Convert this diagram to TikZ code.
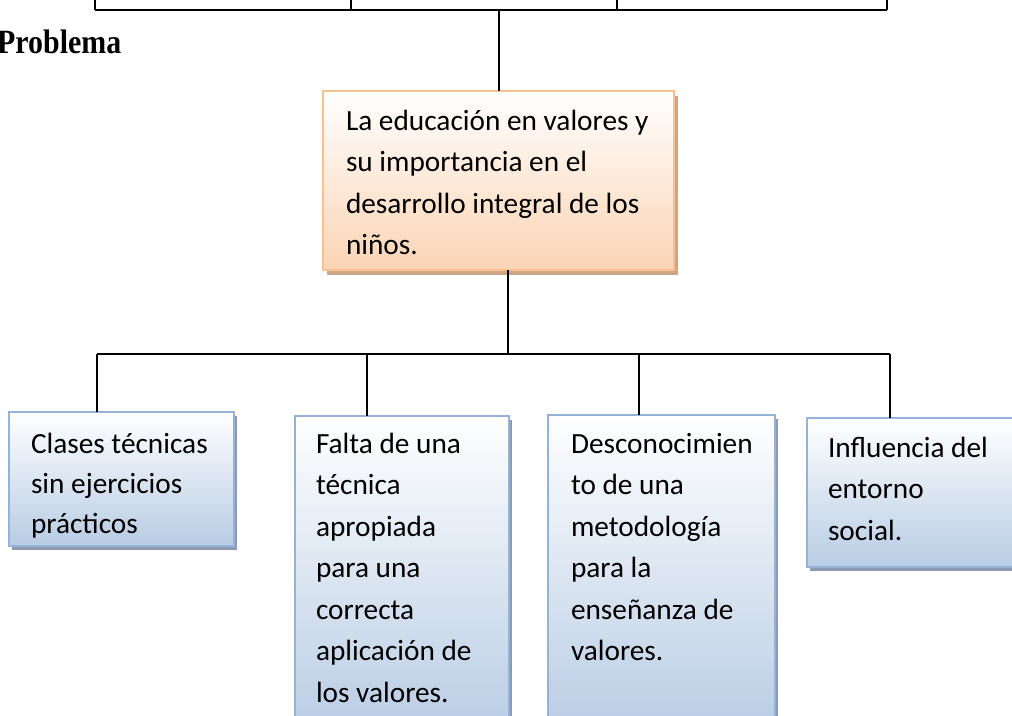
\documentclass[tikz,border=0pt]{standalone}
\usepackage{graphicx}
\usepackage{fontspec}
\setmainfont{Carlito}
\newfontfamily\probfont{Liberation Serif}
\usetikzlibrary{shadows}
\definecolor{peachborder}{RGB}{250,192,144}
\definecolor{peachfill}{RGB}{251,212,180}
\definecolor{peachshadow}{RGB}{205,165,135}
\definecolor{blueborder}{RGB}{149,179,215}
\definecolor{bluefill}{RGB}{184,204,228}
\definecolor{blueshadow}{RGB}{140,155,178}
\newcommand\fstrut{\rule{0pt}{25pt}}
\begin{document}
\begin{tikzpicture}[x=1pt,y=-1pt,
  box/.style={rectangle, anchor=north west, inner sep=0pt, outer sep=0pt, line width=2.5pt},
  peachbox/.style={box, draw=peachborder, top color=white, bottom color=peachfill,
    drop shadow={shadow xshift=4pt, shadow yshift=-5pt, fill=peachshadow, opacity=1}},
  bluebox/.style={box, draw=blueborder, top color=white, bottom color=bluefill,
    drop shadow={shadow xshift=3pt, shadow yshift=-4pt, fill=blueshadow, opacity=1}},
  txt/.style={anchor=north west, inner sep=0pt, outer sep=0pt, align=left,
    font=\fontsize{29.3}{41.5}\selectfont},
  conn/.style={line width=2pt, black}]
\useasboundingbox (0,0) rectangle (1012,715);
\clip (0,0) rectangle (1012,715);
\fill[white] (0,0) rectangle (1012,715);

% boxes
\node[peachbox, minimum width=351pt, minimum height=179pt] (c) at (323,91) {};
\node[bluebox, minimum width=225pt, minimum height=134pt] (b1) at (9,412) {};
\node[bluebox, minimum width=214pt, minimum height=320pt] (b2) at (295,416) {};
\node[bluebox, minimum width=227pt, minimum height=320pt] (b3) at (548,415) {};
\node[bluebox, minimum width=215pt, minimum height=149pt] (b4) at (807,418) {};

% texts
\node[txt] (ct) at (346,105) {\fstrut La educación en valores y\\su importancia en el\\desarrollo integral de los\\niños.};
\node[txt, font=\fontsize{29.3}{40}\selectfont] (t1) at (31,428) {\fstrut Clases técnicas\\sin ejercicios\\prácticos};
\node[txt] (t2) at (316,428) {\fstrut Falta de una\\técnica\\apropiada\\para una\\correcta\\aplicación de\\los valores.};
\node[txt] (t3) at (571,428) {\fstrut Desconocimien\\to de una\\metodología\\para la\\enseñanza de\\valores.};
\node[txt] (t4) at (828,432) {\fstrut Influencia del\\entorno\\social.};

\node[anchor=base west, inner sep=0pt, font=\probfont\bfseries\fontsize{34}{40}\selectfont] (prob) at (-3,53) {\scalebox{0.88}[1]{Problema}};

% top connectors
\coordinate (top) at (0,0);
\coordinate (u1) at (95,10);
\coordinate (u2) at (351,10);
\coordinate (u3) at (617,10);
\coordinate (u4) at (887,10);
\draw[conn] (u1) -- (u4);
\foreach \u in {u1,u2,u3,u4} \draw[conn] (\u) -- (\u |- top);
\draw[conn] (c.north) -- (c.north |- u1);

% bottom connectors
\coordinate (j) at (508,354);
\coordinate (d1) at (97,354);
\coordinate (d2) at (367,354);
\coordinate (d3) at (639,354);
\coordinate (d4) at (890,354);
\draw[conn] (c.south -| j) -- (j);
\draw[conn] (d1) -- (d4);
\draw[conn] (d1) -- (d1 |- b1.north);
\draw[conn] (d2) -- (d2 |- b2.north);
\draw[conn] (d3) -- (d3 |- b3.north);
\draw[conn] (d4) -- (d4 |- b4.north);
\end{tikzpicture}
\end{document}
